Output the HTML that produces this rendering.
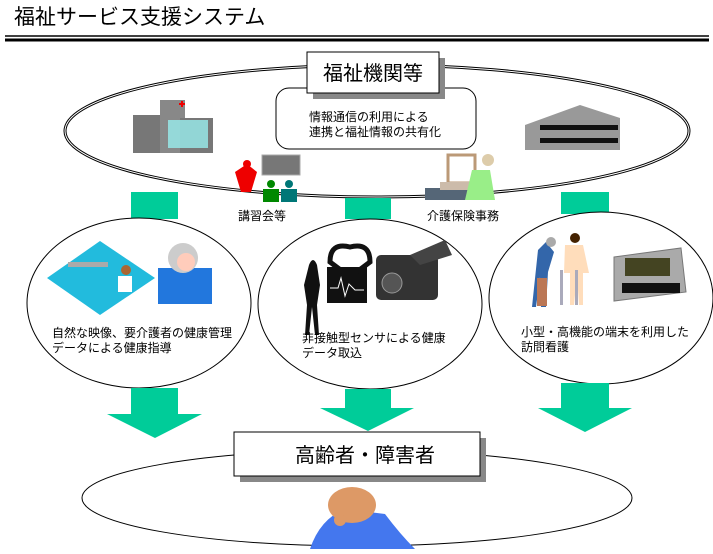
<!DOCTYPE html>
<html><head><meta charset="utf-8"><style>
body{margin:0;width:713px;height:549px;background:#fff;overflow:hidden;font-family:"Liberation Sans","Noto Sans CJK JP",sans-serif}
</style></head><body>
<svg width="713" height="549" viewBox="0 0 713 549" xmlns="http://www.w3.org/2000/svg" font-family="Liberation Sans, Noto Sans CJK JP, sans-serif">
<text x="14" y="24" font-size="21" fill="#000">福祉サービス支援システム</text>
<line x1="5" y1="36" x2="709" y2="36" stroke="#000" stroke-width="1.5"/>
<line x1="5" y1="40" x2="709" y2="40" stroke="#000" stroke-width="3"/>
<ellipse cx="377" cy="131" rx="312" ry="66" fill="none" stroke="#000" stroke-width="3"/>
<ellipse cx="377" cy="131" rx="312" ry="66" fill="none" stroke="#fff" stroke-width="1"/>
<rect x="276" y="88" width="200" height="61" rx="13" fill="#fff" stroke="#000"/>
<text x="309" y="121" font-size="12">情報通信の利用による</text>
<text x="309" y="136" font-size="12">連携と福祉情報の共有化</text>
<rect x="313" y="58" width="132" height="41" fill="#888"/>
<rect x="307" y="52" width="132" height="41" fill="#fff" stroke="#000"/>
<text x="373" y="80" font-size="20" text-anchor="middle">福祉機関等</text>
<rect x="133" y="115" width="30" height="38" fill="#777"/>
<rect x="160" y="100" width="25" height="53" fill="#888"/>
<rect x="180" y="118" width="33" height="35" fill="#777"/>
<rect x="168" y="120" width="40" height="28" fill="#9ee" opacity=".8"/>
<rect x="179" y="103" width="6" height="2" fill="#e00"/><rect x="181" y="101" width="2" height="6" fill="#e00"/>
<polygon points="525,125 580,105 620,118 620,150 525,150" fill="#999"/>
<rect x="540" y="125" width="78" height="5" fill="#111"/><rect x="540" y="138" width="78" height="5" fill="#111"/>
<rect x="262" y="155" width="38" height="20" fill="#777" stroke="#aaa"/>
<path d="M235,172 l12,-8 l10,8 l-6,20 l-10,0z" fill="#e00"/><circle cx="247" cy="164" r="4" fill="#e00"/>
<circle cx="271" cy="184" r="4" fill="#080"/><rect x="263" y="189" width="16" height="13" fill="#080"/>
<circle cx="289" cy="184" r="4" fill="#077"/><rect x="281" y="189" width="16" height="13" fill="#077"/>
<rect x="448" y="155" width="27" height="28" fill="#fff" stroke="#b97" stroke-width="3"/>
<rect x="425" y="188" width="60" height="12" fill="#567"/>
<rect x="440" y="182" width="35" height="8" fill="#cba"/>
<path d="M472,170 l18,0 l5,30 l-30,0z" fill="#9e8"/><circle cx="488" cy="160" r="6" fill="#dca"/>
<rect x="131" y="192" width="47" height="27" fill="#00cc99"/>
<rect x="345" y="198" width="46" height="21" fill="#00cc99"/>
<rect x="561" y="192" width="48" height="22" fill="#00cc99"/>
<text x="238" y="220" font-size="12">講習会等</text>
<text x="427" y="220" font-size="12">介護保険事務</text>
<ellipse cx="139" cy="303" rx="112" ry="85" fill="#fff" stroke="#000"/>
<ellipse cx="370" cy="304" rx="112" ry="85" fill="#fff" stroke="#000"/>
<ellipse cx="601" cy="298" rx="112" ry="86" fill="#fff" stroke="#000"/>
<polygon points="100,241 155,278 100,315 47,278" fill="#2bd"/>
<rect x="68" y="262" width="40" height="5" fill="#aaa"/>
<circle cx="126" cy="270" r="5" fill="#a63"/>
<rect x="118" y="276" width="14" height="16" fill="#fff"/>
<rect x="158" y="268" width="54" height="36" fill="#27d"/>
<circle cx="183" cy="258" r="15" fill="#ccc"/>
<circle cx="186" cy="262" r="9" fill="#fcb"/>
<path d="M309,265 q4,-10 8,0 l3,20 l-3,20 l2,30 l-4,0 l-3,-28 l-3,28 l-4,0 l2,-30 l-3,-20z" fill="#111"/>
<rect x="327" y="267" width="40" height="36" fill="#111"/>
<path d="M330,262 q0,-20 20,-15 q20,-5 20,15 l-20,15z" fill="none" stroke="#111" stroke-width="5"/>
<polyline points="330,288 338,288 341,278 345,296 349,284 355,290 364,290" fill="none" stroke="#fff"/>
<rect x="376" y="255" width="62" height="45" rx="5" fill="#333"/>
<polygon points="410,255 445,240 452,255 420,265" fill="#444"/>
<circle cx="392" cy="283" r="10" fill="#555" stroke="#999"/>
<path d="M538,250 l8,-8 l8,10 l-6,20 l-2,35 l-5,0 l-1,-30 l-4,30 l-4,0 z" fill="#36a"/>
<rect x="537" y="278" width="10" height="28" fill="#b75"/>
<circle cx="551" cy="242" r="5" fill="#aaa"/>
<path d="M565,245 l18,0 l6,28 l-6,0 l0,32 l-4,0 l-2,-30 l-3,30 l-4,0 l0,-32 l-6,0z" fill="#fdb"/>
<circle cx="575" cy="238" r="5" fill="#420"/>
<rect x="560" y="270" width="3" height="35" fill="#aab"/><rect x="575" y="270" width="3" height="35" fill="#aab"/>
<polygon points="614,257 681,248 686,292 614,301" fill="#aaa" stroke="#777"/>
<rect x="625" y="258" width="45" height="18" fill="#442"/>
<rect x="622" y="283" width="58" height="10" fill="#111"/>
<text x="52" y="337" font-size="12">自然な映像、要介護者の健康管理</text>
<text x="52" y="352" font-size="12">データによる健康指導</text>
<text x="302" y="342" font-size="12">非接触型センサによる健康</text>
<text x="302" y="357" font-size="12">データ取込</text>
<text x="521" y="336" font-size="12">小型・高機能の端末を利用した</text>
<text x="521" y="351" font-size="12">訪問看護</text>
<polygon points="131,388 178,388 178,414 202,414 155,438 107,414 131,414" fill="#00cc99"/>
<polygon points="345,389 391,389 391,408 414,408 368,431 320,408 345,408" fill="#00cc99"/>
<polygon points="561,383 609,383 609,408 632,408 585,432 538,408 561,408" fill="#00cc99"/>
<ellipse cx="357" cy="498" rx="275" ry="48" fill="#fff" stroke="#000"/>
<rect x="240" y="438" width="246" height="44" fill="#888"/>
<rect x="234" y="432" width="246" height="44" fill="#fff" stroke="#000"/>
<text x="365" y="462" font-size="20" text-anchor="middle">高齢者・障害者</text>
<path d="M310,549 q10,-30 35,-40 l40,5 q15,20 30,35z" fill="#47e"/>
<ellipse cx="352" cy="505" rx="24" ry="18" fill="#d96"/>
<circle cx="340" cy="520" r="6" fill="#d96"/>
</svg>
</body></html>
